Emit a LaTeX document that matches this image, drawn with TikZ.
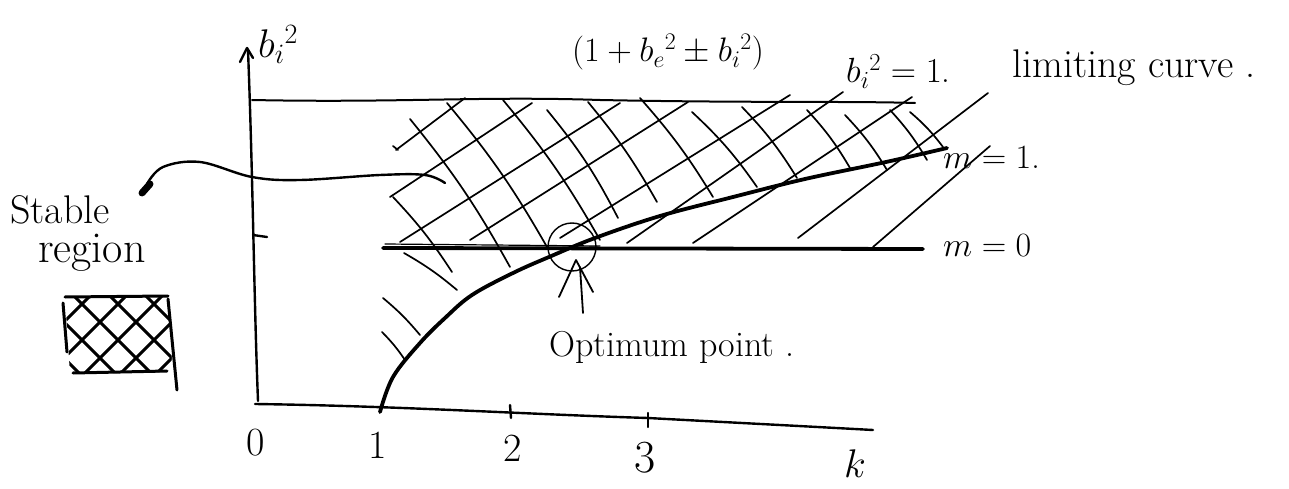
\RequirePackage{fix-cm}
\documentclass[tikz,border=0pt]{standalone}
\usepackage{fontspec}
\begin{document}
\begin{tikzpicture}[x=1pt,y=-1pt,line cap=round,line join=round]
\tikzset{
  axisline/.style={line width=2.4pt},
  hatchline/.style={line width=1.7pt},
  boldcurve/.style={line width=3.8pt},
  boxline/.style={line width=3pt},
  lbl/.style={inner sep=0pt,anchor=base west},
  numlbl/.style={inner sep=0pt,anchor=center,font=\fontsize{40}{44}\selectfont}
}
\useasboundingbox (0,0) rectangle (1289,489);

% axes
\draw[axisline] (258,401) .. controls (254,300) and (253,180) .. (248,50);
\draw[axisline] (240,62) -- (247,48) -- (253,58);
\draw[axisline] (253,235) -- (267,237);
\draw[axisline] (255,404) .. controls (400,406) and (520,414) .. (648,418) .. controls (760,424) and (800,426) .. (873,430);
\draw[axisline] (510,405) -- (511,418);
\draw[axisline] (648,413) -- (648,427);

% top limiting line
\draw[line width=2pt] (252,100) .. controls (400,103) and (480,96) .. (600,100) .. controls (750,103) and (850,101) .. (915,103);

% hatch "\" lines
\draw[hatchline] (393,197) to[bend left=5] (452,272);
\draw[hatchline] (404,253) to[bend left=5] (457,290);
\draw[hatchline] (383,298) to[bend left=5] (420,335);
\draw[hatchline] (382,332) to[bend left=5] (405,360);
\draw[hatchline] (410,119) to[bend left=5] (510,267);
\draw[hatchline] (447,103) to[bend left=5] (547,247);
\draw[hatchline] (503,100) to[bend left=5] (600,240);
\draw[hatchline] (547,110) to[bend left=6] (618,218);
\draw[hatchline] (588,102) to[bend left=5] (657,202);
\draw[hatchline] (640,98) to[bend left=5] (713,197);
\draw[hatchline] (692,112) to[bend left=6] (757,187);
\draw[hatchline] (742,107) to[bend left=6] (797,178);
\draw[hatchline] (807,110) to[bend left=6] (850,168);
\draw[hatchline] (845,115) to[bend left=6] (887,170);
\draw[hatchline] (890,110) to[bend left=6] (927,160);
\draw[hatchline] (910,112) to[bend left=6] (943,147);

% hatch "/" lines
\draw[hatchline] (396,150) -- (465,98);
\draw[hatchline] (393,146) -- (398,150);
\draw[hatchline] (390,197) -- (532,103);
\draw[hatchline] (400,242) -- (620,103);
\draw[hatchline] (470,240) -- (688,102);
\draw[hatchline] (560,238) -- (790,95);
\draw[hatchline] (627,243) -- (843,92);
\draw[hatchline] (693,243) -- (912,97);
\draw[hatchline] (798,238) -- (988,93);
\draw[hatchline] (873,247) -- (990,146);

% m = 0 line
\draw[boldcurve] (383,248) -- (923,249);
\draw[line width=1.2pt] (385,244) -- (600,246);

% m = 1 curve
\draw[boldcurve] plot[smooth,tension=0.6] coordinates {(380,412) (393,377) (420,343) (445,318) (472,295) (513,273) (549,257) (595,238) (660,216) (733,197) (805,179) (886,162) (947,148)};

% optimum point circle and arrow
\draw[line width=1.4pt] (572,247) circle[radius=24pt];
\coordinate (tip) at (576,260);
\draw[line width=1.8pt] (559,297) -- (tip) -- (593,292);
\draw[line width=1.8pt] (580,267) -- (583,313);

% pointer from "Stable region"
\draw[line width=2.4pt] plot[smooth,tension=0.6] coordinates {(147,184) (163,167) (200,162) (252,177) (300,180) (380,175) (425,175) (445,183)};
\draw[line width=7pt] (142,193) -- (150,184);

% small legend box
\draw[boxline] (63,303) -- (67,352);
\draw[boxline] (65,297) -- (168,296);
\draw[boxline] (73,373) -- (167,371);
\draw[boxline] (168,299) -- (177,390);
\begin{scope}
  \clip (65,297) -- (170,296) -- (172,372) -- (70,374) -- cycle;
  \foreach \s in {-40,-4,32,68,104,140} \draw[boxline] (\s,290) -- ++(100,100);
  \foreach \s in {96,132,168,204,240,276} \draw[boxline] (\s,290) -- ++(-100,100);
\end{scope}

% labels
\node[lbl,font=\fontsize{40}{44}\selectfont] (bi) at (258,58) {$b_i{}^2$};
\node[lbl,font=\fontsize{34}{38}\selectfont] (cond) at (572,62) {$(1+b_e{}^2\pm b_i{}^2)$};
\node[lbl,font=\fontsize{35}{40}\selectfont] (lim) at (846,83) {$b_i{}^2=1$.};
\node[lbl,font=\fontsize{40}{44}\selectfont] (limtxt) at (1012,78) {limiting curve .};
\node[lbl,font=\fontsize{34}{38}\selectfont] (m1) at (943,168) {$m=1$.};
\node[lbl,font=\fontsize{34}{38}\selectfont] (m0) at (943,256) {$m=0$};
\node[lbl,font=\fontsize{40}{44}\selectfont] (stable) at (10,223) {Stable};
\node[lbl,font=\fontsize{44}{48}\selectfont] (region) at (38,262) {region};
\node[lbl,font=\fontsize{36}{40}\selectfont] (opt) at (549,356) {Optimum point .};
\node[numlbl] (n0) at (256,443) {0};
\node[numlbl] (n1) at (378,445) {1};
\node[numlbl] (n2) at (513,448) {2};
\node[numlbl,font=\fontsize{46}{50}\selectfont] (n3) at (645,458) {3};
\node[numlbl,font=\fontsize{40}{44}\selectfont] (nk) at (855,464) {$k$};
\end{tikzpicture}
\end{document}
